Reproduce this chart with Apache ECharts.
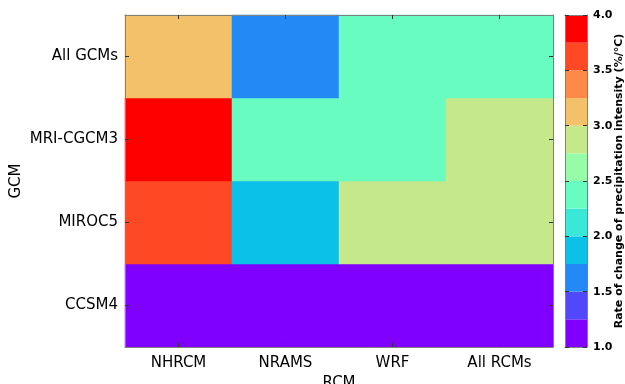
<!DOCTYPE html>
<html>
<head>
<meta charset="utf-8">
<script src="https://cdn.jsdelivr.net/npm/echarts@6/dist/echarts.min.js"></script>
<style>
  html, body { margin: 0; padding: 0; background: #fff; }
  #chart { width: 625px; height: 384px; }
</style>
</head>
<body>
<div id="chart"></div>
<script>
// Regional climate models (columns) and global climate models (rows, bottom to top)
const rcms = ['NHRCM', 'NRAMS', 'WRF', 'All RCMs'];
const gcms = ['CCSM4', 'MIROC5', 'MRI-CGCM3', 'All GCMs'];

// Rate of change of precipitation intensity (%/°C), one list per GCM row
const ccsm4Row   = [1.1, 1.1, 1.1, 1.1];
const miroc5Row  = [3.6, 1.9, 2.9, 2.9];
const mriRow     = [3.9, 2.4, 2.4, 2.9];
const allGcmRow  = [3.1, 1.6, 2.4, 2.4];

// Discrete colour levels of the scale (boundaries) and their colours
const levelBounds = [1.0, 1.25, 1.5, 1.75, 2.0, 2.25, 2.5, 2.75, 3.0, 3.25, 3.5, 3.75, 4.0];
const levelColors = ['#8000ff', '#5148fc', '#238af5', '#0cc1e8', '#3ae8d7', '#68fcc1',
                     '#97fca7', '#c5e88a', '#f3c16a', '#ff8a48', '#ff4824', '#ff0000'];
const colorbarTicks = [1.0, 1.5, 2.0, 2.5, 3.0, 3.5, 4.0];

const rows = [ccsm4Row, miroc5Row, mriRow, allGcmRow];
const cells = [];
rows.forEach((row, yi) => row.forEach((v, xi) => cells.push([xi, yi, v])));

const pieces = levelColors.map((c, i) => ({ gte: levelBounds[i], lt: levelBounds[i + 1], color: c }));
pieces[pieces.length - 1].lte = levelBounds[levelBounds.length - 1];
delete pieces[pieces.length - 1].lt;

const barSegments = levelColors.map((c, i) => [levelBounds[i], levelBounds[i + 1]]);

const FONT = 'DejaVu Sans';
const frameColor = '#808080';
const tickColor = '#333333';

const catAxisBase = {
  type: 'category',
  z: 10,
  axisLine: { show: true, onZero: false, lineStyle: { color: frameColor, width: 1 } },
  axisTick: { show: true, inside: true, alignWithLabel: true, length: 4, lineStyle: { color: tickColor } },
  splitLine: { show: false },
  splitArea: { show: false }
};

// Plain frame edge for the colour bar (no ticks, no labels)
const barEdge = (position) => ({
  type: 'value', gridIndex: 1, position: position, min: 0, max: 1, z: 10,
  axisLine: { show: true, onZero: false, lineStyle: { color: frameColor } },
  axisTick: { show: false }, axisLabel: { show: false }, splitLine: { show: false }
});

const chart = echarts.init(document.getElementById('chart'), null, { renderer: 'canvas' });
chart.setOption({
  animation: false,
  backgroundColor: '#ffffff',
  textStyle: { fontFamily: FONT },
  grid: [
    { left: 125, top: 15, width: 428, height: 332, containLabel: false, outerBoundsMode: 'none' },
    { left: 565, top: 15, width: 22, height: 332, containLabel: false, outerBoundsMode: 'none' }
  ],
  xAxis: [
    Object.assign({}, catAxisBase, {
      gridIndex: 0, position: 'bottom', data: rcms,
      axisLabel: { color: '#000', fontSize: 15, fontFamily: FONT, margin: 9 },
      name: 'RCM', nameLocation: 'middle', nameGap: 29, nameMoveOverlap: false,
      nameTextStyle: { color: '#000', fontSize: 15, fontFamily: FONT }
    }),
    Object.assign({}, catAxisBase, {
      gridIndex: 0, position: 'top', data: rcms, axisLabel: { show: false }
    }),
    barEdge('bottom'),
    barEdge('top')
  ],
  yAxis: [
    Object.assign({}, catAxisBase, {
      gridIndex: 0, position: 'left', data: gcms,
      axisLabel: { color: '#000', fontSize: 15, fontFamily: FONT, margin: 7 },
      name: 'GCM', nameLocation: 'middle', nameGap: 101, nameRotate: 90, nameMoveOverlap: false,
      nameTextStyle: { color: '#000', fontSize: 15, fontFamily: FONT }
    }),
    Object.assign({}, catAxisBase, {
      gridIndex: 0, position: 'right', data: gcms, axisLabel: { show: false }
    }),
    {
      type: 'value', gridIndex: 1, position: 'right', z: 10,
      min: 1, max: 4, interval: 0.5,
      axisLine: { show: true, onZero: false, lineStyle: { color: frameColor } },
      axisTick: { show: true, inside: true, length: 4, lineStyle: { color: tickColor } },
      splitLine: { show: false },
      axisLabel: {
        color: '#000', fontSize: 11, fontWeight: 'bold', fontFamily: FONT, margin: 6,
        formatter: v => colorbarTicks.includes(v) ? v.toFixed(1) : ''
      },
      name: 'Rate of change of precipitation intensity (%/°C)',
      nameLocation: 'middle', nameGap: 27, nameRotate: 90, nameMoveOverlap: false,
      nameTextStyle: { color: '#000', fontSize: 11, fontWeight: 'bold', fontFamily: FONT }
    },
    {
      type: 'value', gridIndex: 1, position: 'left', z: 10,
      min: 1, max: 4, interval: 0.5,
      axisLine: { show: true, onZero: false, lineStyle: { color: frameColor } },
      axisTick: { show: true, inside: true, length: 4, lineStyle: { color: tickColor } },
      splitLine: { show: false },
      axisLabel: { show: false }
    }
  ],
  visualMap: {
    type: 'piecewise', show: false, seriesIndex: 0, dimension: 2,
    pieces: pieces
  },
  series: [
    {
      type: 'heatmap', xAxisIndex: 0, yAxisIndex: 0, data: cells,
      itemStyle: { borderWidth: 0 },
      emphasis: { disabled: true }
    },
    {
      type: 'custom', xAxisIndex: 2, yAxisIndex: 2, data: barSegments,
      z: 1,
      renderItem: (params, api) => {
        const p0 = api.coord([0, api.value(0)]);
        const p1 = api.coord([1, api.value(1)]);
        return {
          type: 'rect',
          shape: { x: p0[0], y: p1[1], width: p1[0] - p0[0], height: p0[1] - p1[1] },
          style: { fill: levelColors[params.dataIndex] }
        };
      }
    }
  ]
});
</script>
</body>
</html>
